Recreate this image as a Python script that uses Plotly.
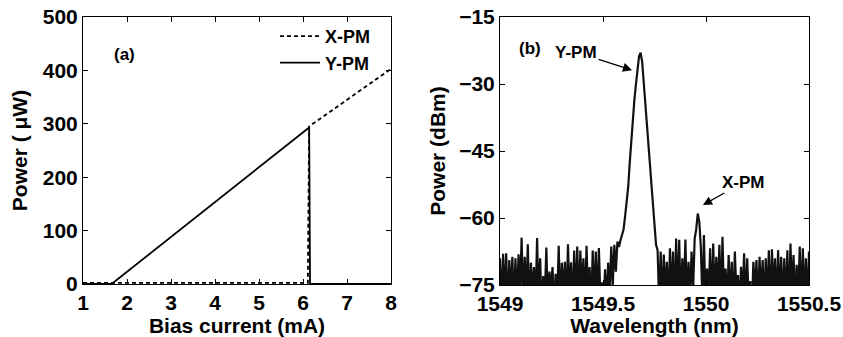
import numpy as np
import plotly.graph_objects as go

# ---- (a) L-I curves of the two polarization modes ----
bias_xpm = [1.0, 6.11, 6.14, 8.0]          # mA
power_xpm = [2.0, 2.0, 295.0, 403.0]       # uW
bias_ypm = [1.0, 1.65, 6.14, 6.16, 8.0]    # mA
power_ypm = [0.0, 0.0, 293.0, 0.0, 0.0]    # uW

# ---- (b) optical spectrum, sampled every 0.0075 nm from 1549 nm ----
lambda_start = 1549.0
lambda_step = 0.0075
spectrum_dbm = [
    -69.0, -80, -68.0, -78, -67.9, -81, -69.4, -77, -68.7, -80,
    -69.0, -79, -68.1, -76, -64.4, -80, -68.7, -78, -65.9, -81,
    -70.0, -77, -71.0, -80, -64.5, -79, -69.0, -82, -73.0, -78,
    -66.6, -80, -72.0, -76, -71.0, -81, -72.5, -79, -66.2, -80,
    -70.0, -77, -69.8, -80, -65.9, -78, -69.9, -81, -67.3, -79,
    -66.4, -80, -67.3, -77, -69.0, -80, -66.2, -78, -71.0, -81,
    -67.3, -79, -67.5, -80, -66.7, -78, -74.4, -80, -71.5, -79,
    -70.0, -77, -66.4, -75, -66.0, -72, -65.3, -66.5, -65.0, -64.0,
    -62.5, -59.5, -56.2, -53.0, -47.5, -42.5, -38.0, -33.5, -30.0, -26.5,
    -23.8, -23.0, -25.0, -29.5, -34.0, -39.5, -44.0, -48.5, -53.0, -57.5,
    -62.5, -66.0, -67.2, -79, -67.5, -80, -68.2, -77, -69.8, -80,
    -66.8, -78, -67.5, -81, -64.6, -79, -64.9, -80, -69.0, -77,
    -64.8, -80, -69.8, -78, -67.5, -76, -64.6, -62.5, -59.0, -60.8,
    -66.5, -79, -63.8, -80, -71.3, -78, -66.8, -81, -65.7, -79,
    -68.7, -77, -66.0, -80, -64.2, -78, -71.3, -80, -68.3, -79,
    -69.8, -81, -67.5, -77, -72.8, -80, -70.9, -78, -67.9, -80,
    -69.0, -79, -74.1, -81, -69.8, -77, -69.4, -80, -68.7, -78,
    -69.4, -80, -69.0, -79, -67.2, -81, -67.0, -77, -69.0, -80,
    -67.2, -78, -68.7, -80, -69.0, -79, -67.2, -81, -65.7, -77,
    -68.3, -80, -70.5, -78, -66.4, -80, -66.8, -79, -69.0, -80,
    -67.5,
]
wavelength_nm = lambda_start + lambda_step * np.arange(len(spectrum_dbm))

# tick values
ticks_bias = [1, 2, 3, 4, 5, 6, 7, 8]
ticks_power_uw = [0, 100, 200, 300, 400, 500]
ticks_lambda = [1549, 1549.5, 1550, 1550.5]
ticks_dbm = [-75, -60, -45, -30, -15]

W, H = 843, 337
FONT = "Liberation Sans, Arial, sans-serif"


def px_x(p):
    return p / W


def px_y(p):
    return 1 - p / H


fig = go.Figure()

fig.add_trace(go.Scatter(
    x=bias_xpm, y=power_xpm, mode="lines", name="X-PM",
    line=dict(color="black", width=1.8, dash="4px,3px"),
    xaxis="x", yaxis="y",
))
fig.add_trace(go.Scatter(
    x=bias_ypm, y=power_ypm, mode="lines", name="Y-PM",
    line=dict(color="black", width=1.8),
    xaxis="x", yaxis="y",
))
fig.add_trace(go.Scatter(
    x=wavelength_nm, y=spectrum_dbm, mode="lines", showlegend=False,
    line=dict(color="#111111", width=2.2),
    xaxis="x2", yaxis="y2",
))

tickfont = dict(family=FONT, size=21, color="black", weight="bold")
titlefont = dict(family=FONT, size=21, color="black", weight="bold")

common = dict(
    showline=True, linecolor="black", linewidth=1, mirror="ticks",
    ticks="inside", ticklen=5, tickwidth=1, tickcolor="black",
    showgrid=False, zeroline=False, tickfont=tickfont, automargin=False,
)

fig.update_layout(
    width=W, height=H,
    margin=dict(l=0, r=0, t=0, b=0),
    paper_bgcolor="white", plot_bgcolor="white",
    font=dict(family=FONT, color="black"),
    xaxis=dict(domain=[px_x(83), px_x(391)], anchor="y", range=[1, 8],
               tickvals=ticks_bias,
               title=dict(text="Bias current (mA)", font=titlefont, standoff=3),
               **common),
    yaxis=dict(domain=[px_y(284), px_y(17)], anchor="x", range=[0, 500],
               tickvals=ticks_power_uw,
               title=dict(text="Power ( \u03bcW)", font=titlefont, standoff=9),
               **common),
    xaxis2=dict(domain=[px_x(500), px_x(809)], anchor="y2", range=[1549, 1550.5],
                tickvals=ticks_lambda, ticktext=["1549", "1549.5", "1550", "1550.5"],
                title=dict(text="Wavelength (nm)", font=titlefont, standoff=3),
                **common),
    yaxis2=dict(domain=[px_y(285), px_y(17)], anchor="x2", range=[-75, -15],
                tickvals=ticks_dbm,
                title=dict(text="Power (dBm)", font=titlefont, standoff=7),
                **common),
    legend=dict(
        x=px_x(275), y=px_y(18), xanchor="left", yanchor="top",
        bgcolor="rgba(0,0,0,0)", borderwidth=0, itemwidth=40,
        font=dict(family=FONT, size=18, color="black", weight="bold"),
        tracegroupgap=0,
    ),
    showlegend=True,
)

label_font = dict(family=FONT, size=17, color="black", weight="bold")

fig.add_annotation(text="(a)", xref="paper", yref="paper",
                   x=px_x(112), y=px_y(43), showarrow=False, font=label_font)
fig.add_annotation(text="(b)", xref="paper", yref="paper",
                   x=px_x(530), y=px_y(37), showarrow=False, font=label_font)

fig.add_annotation(text="Y-PM", xref="x2", yref="y2", x=1549.641, y=-26.9,
                   ax=-56, ay=-18, showarrow=True, arrowhead=2, arrowsize=1.4,
                   arrowwidth=1.3, arrowcolor="black", font=label_font)
fig.add_annotation(text="X-PM", xref="x2", yref="y2", x=1549.985, y=-57.1,
                   ax=41, ay=-23, showarrow=True, arrowhead=2, arrowsize=1.4,
                   arrowwidth=1.3, arrowcolor="black", font=label_font)

fig.write_html("out.html")
